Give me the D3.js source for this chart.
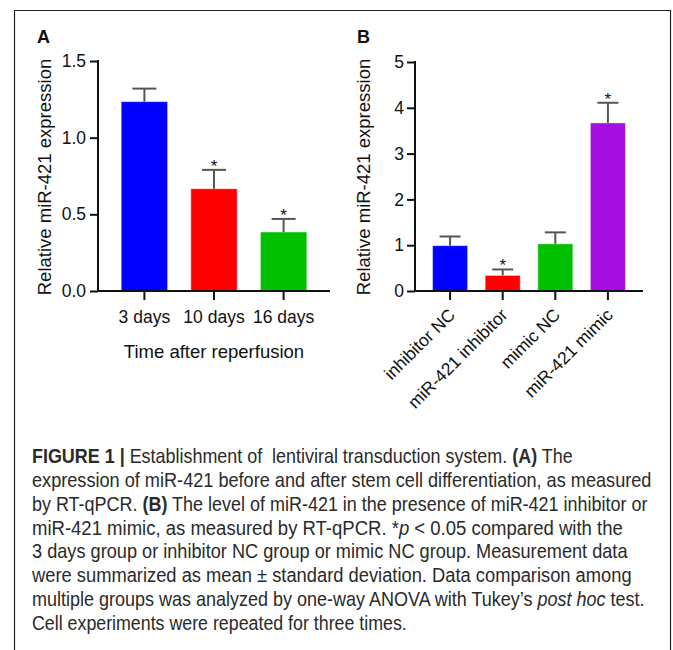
<!DOCTYPE html>
<html>
<head>
<meta charset="utf-8">
<script src="https://cdn.jsdelivr.net/npm/d3@7"></script>
<style>
  body { margin: 0; background: #fff; }
  svg { display: block; }
  text { font-family: "Liberation Sans", Arial, sans-serif; }
</style>
</head>
<body>
<svg id="fig" width="673" height="650"></svg>
<script>
// Figure 1 — miR-421 expression, two bar panels + caption

// panel A
const groupsA = ["3 days", "10 days", "16 days"];
const meanA   = [1.235, 0.667, 0.385];
const sdA     = [0.085, 0.123, 0.085];
const sigA    = [false, true, true];
const ticksA  = [0, 0.5, 1.0, 1.5];

// panel B
const groupsB = ["inhibitor NC", "miR-421 inhibitor", "mimic NC", "miR-421 mimic"];
const meanB   = [0.99, 0.34, 1.03, 3.67];
const sdB     = [0.20, 0.13, 0.25, 0.44];
const sigB    = [false, true, false, true];
const ticksB  = [0, 1, 2, 3, 4, 5];

const colorsA = ["#0000ff", "#ff0000", "#00c000"];
const colorsB = ["#0000ff", "#ff0000", "#00c000", "#a50ee0"];

const svg = d3.select("#fig");

// frame (open at the bottom)
svg.append("path")
    .attr("d", "M14.5,650V10.5H670.5V650")
    .attr("fill", "none")
    .attr("stroke", "#222")
    .attr("stroke-width", 1.2);

function panel(opt) {
    const x = d3.scaleBand().domain(opt.groups).range([opt.x0, opt.x1])
        .paddingInner(1 / 3).paddingOuter(1 / 3);
    const y = d3.scaleLinear().domain(opt.domain).range([291, opt.yTop]);

    const g = svg.append("g");

    // bars
    g.append("g").selectAll("rect")
        .data(opt.groups)
        .join("rect")
        .attr("x", d => x(d))
        .attr("width", x.bandwidth())
        .attr("y", (d, i) => y(opt.mean[i]))
        .attr("height", (d, i) => y(0) - y(opt.mean[i]))
        .attr("fill", (d, i) => opt.colors[i])
        .attr("stroke", "#ffffff")
        .attr("stroke-opacity", 0.45)
        .attr("stroke-width", 1);

    // error bars (upper only)
    const eb = g.append("g").attr("stroke", "#555").attr("stroke-width", 2);
    opt.groups.forEach((d, i) => {
        const cx = x(d) + x.bandwidth() / 2;
        const top = y(opt.mean[i] + opt.sd[i]);
        eb.append("line").attr("x1", cx).attr("x2", cx)
            .attr("y1", y(opt.mean[i])).attr("y2", top);
        eb.append("line").attr("x1", cx - opt.cap / 2).attr("x2", cx + opt.cap / 2)
            .attr("y1", top).attr("y2", top);
        if (opt.sig[i]) {
            g.append("text")
                .attr("x", cx).attr("y", top + 2)
                .attr("text-anchor", "middle")
                .attr("font-size", "17px")
                .attr("fill", "#111")
                .text("*");
        }
    });

    // y axis
    const ya = g.append("g")
        .attr("transform", `translate(${opt.x0},0)`)
        .call(d3.axisLeft(y).tickValues(opt.ticks).tickFormat(opt.fmt)
            .tickSize(8).tickSizeOuter(0).tickPadding(opt.yPad));
    // x axis
    const xa = g.append("g")
        .attr("transform", "translate(0,291)")
        .call(d3.axisBottom(x).tickSize(9).tickSizeOuter(0).tickPadding(11));

    [ya, xa].forEach(a => {
        a.selectAll("path, line").attr("stroke", "#111").attr("stroke-width", 2);
        a.selectAll("text").attr("fill", "#111").attr("font-size", "17.5px")
            .attr("font-family", "'Liberation Sans', Arial, sans-serif");
    });
    ya.select(".domain").attr("d", `M0,${opt.yTop - 1}V${y(0) + 1}`);
    xa.select(".domain").attr("d", `M${opt.x0 - 1},0H${opt.x1}`);

    // y title
    g.append("text")
        .attr("transform", `translate(${opt.yTitleX},177) rotate(-90)`)
        .attr("text-anchor", "middle")
        .attr("font-size", "18.5px")
        .attr("fill", "#111")
        .text("Relative miR-421 expression");

    // panel letter
    g.append("text")
        .attr("x", opt.letterX).attr("y", 43)
        .attr("font-size", "18px").attr("font-weight", "bold")
        .attr("fill", "#111")
        .text(opt.letter);

    return { g, x, xa };
}

const A = panel({
    groups: groupsA, mean: meanA, sd: sdA, sig: sigA, colors: colorsA,
    ticks: ticksA, fmt: d3.format(".1f"), domain: [0, 1.5],
    x0: 98, x1: 330, yTop: 61, cap: 24, yPad: 4,
    yTitleX: 51, letterX: 37, letter: "A"
});

A.g.append("text")
    .attr("x", 214).attr("y", 358)
    .attr("text-anchor", "middle")
    .attr("font-size", "18.5px")
    .attr("fill", "#111")
    .text("Time after reperfusion");

const B = panel({
    groups: groupsB, mean: meanB, sd: sdB, sig: sigB, colors: colorsB,
    ticks: ticksB, fmt: d3.format("d"), domain: [0, 5],
    x0: 415, x1: 643, yTop: 62, cap: 21, yPad: 3,
    yTitleX: 370, letterX: 357, letter: "B"
});

// rotated category labels for B
B.xa.selectAll(".tick text")
    .attr("text-anchor", "end")
    .attr("dy", null)
    .attr("y", null)
    .attr("transform", "translate(6,25) rotate(-45)");

// caption
const capLines = [
    [["b", "FIGURE 1 |"], ["", " Establishment of  lentiviral transduction system. "], ["b", "(A)"], ["", " The"]],
    [["", "expression of miR-421 before and after stem cell differentiation, as measured"]],
    [["", "by RT-qPCR. "], ["b", "(B)"], ["", " The level of miR-421 in the presence of miR-421 inhibitor or"]],
    [["", "miR-421 mimic, as measured by RT-qPCR. *"], ["i", "p"], ["", " < 0.05 compared with the"]],
    [["", "3 days group or inhibitor NC group or mimic NC group. Measurement data"]],
    [["", "were summarized as mean ± standard deviation. Data comparison among"]],
    [["", "multiple groups was analyzed by one-way ANOVA with Tukey’s "], ["i", "post hoc"], ["", " test."]],
    [["", "Cell experiments were repeated for three times."]]
];
const capRight = [573, 652, 648, 623, 628, 632, 645, 407];
const capX = 32, capY0 = 463, capStep = 23.85;

capLines.forEach((parts, i) => {
    const t = svg.append("text")
        .attr("font-size", "20px")
        .attr("fill", "#2a2a2a")
        .style("white-space", "pre");
    parts.forEach(([s, str]) => {
        t.append("tspan")
            .attr("font-weight", s === "b" ? "bold" : null)
            .attr("font-style", s === "i" ? "italic" : null)
            .text(str);
    });
    const w = t.node().getComputedTextLength();
    const k = (capRight[i] - capX) / w;
    t.attr("transform", `translate(${capX},${capY0 + i * capStep}) scale(${k},1)`);
});
</script>
</body>
</html>
